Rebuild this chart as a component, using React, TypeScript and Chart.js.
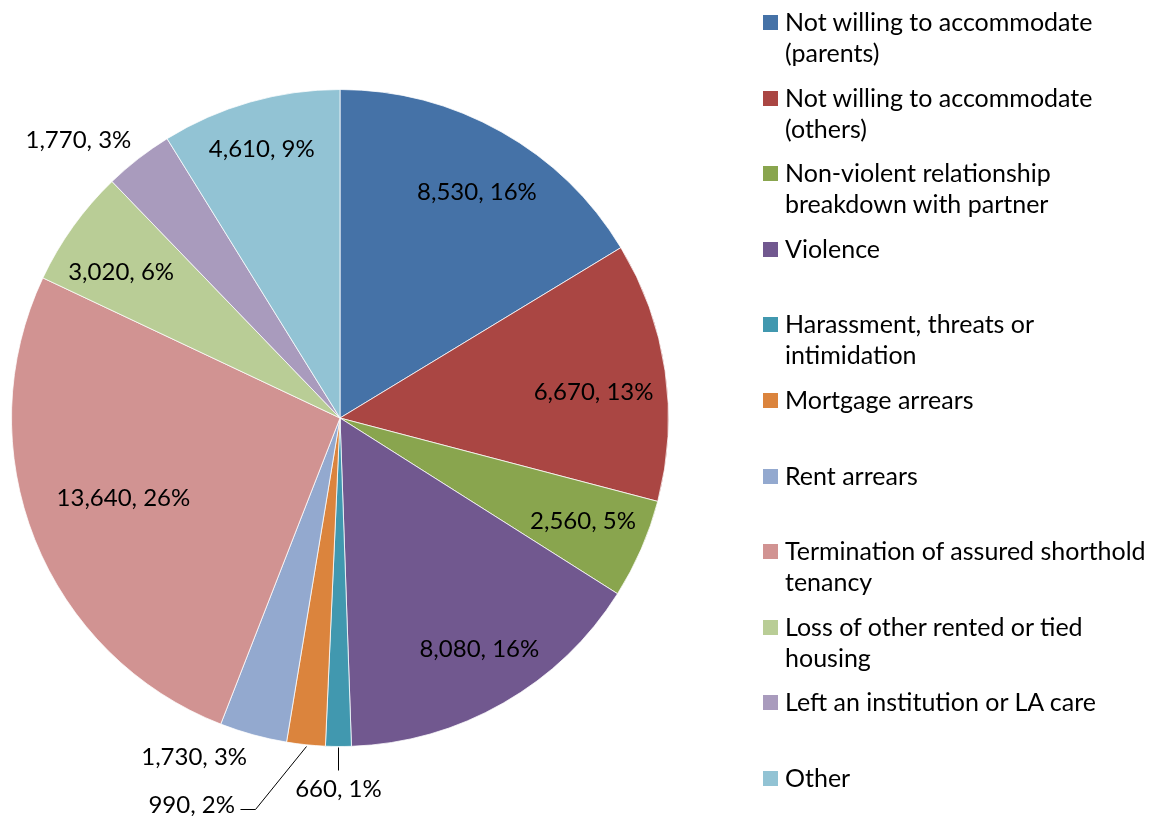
import React, { useEffect, useRef } from "react";
import { Chart, registerables } from "chart.js";

Chart.register(...registerables);

// ---------- data ----------
const categories = [
  "Not willing to accommodate (parents)",
  "Not willing to accommodate (others)",
  "Non-violent relationship breakdown with partner",
  "Violence",
  "Harassment, threats or intimidation",
  "Mortgage arrears",
  "Rent arrears",
  "Termination of assured shorthold tenancy",
  "Loss of other rented or tied housing",
  "Left an institution or LA care",
  "Other",
];
const legendLines = [
  ["Not willing to accommodate", "(parents)"],
  ["Not willing to accommodate", "(others)"],
  ["Non-violent relationship", "breakdown with partner"],
  ["Violence"],
  ["Harassment, threats or", "intimidation"],
  ["Mortgage arrears"],
  ["Rent arrears"],
  ["Termination of assured shorthold", "tenancy"],
  ["Loss of other rented or tied", "housing"],
  ["Left an institution or LA care"],
  ["Other"],
];
const values = [8530, 6670, 2560, 8080, 660, 990, 1730, 13640, 3020, 1770, 4610];
const percents = [16, 13, 5, 16, 1, 2, 3, 26, 6, 3, 9];

// ---------- styles ----------
const colors = [
  "#4572A7", "#AA4643", "#89A54E", "#71588F", "#4198AF", "#DB843D",
  "#93A9CF", "#D19392", "#B9CD96", "#A99BBD", "#92C3D4",
];
const FONT = "Lato, 'Open Sans', sans-serif";
const LABEL_FONT_SIZE = 24;
const LEGEND_FONT_SIZE = 25;

type LabelStyle = {
  inside: boolean;
  f?: number; // fraction of radius for inside labels
  dx?: number; dy?: number; // extra offset
  align?: CanvasTextAlign;
  leader?: number[][]; // polyline relative to outer mid point
};
const labelStyles: LabelStyle[] = [
  { inside: true, f: 0.8, dx: 8, dy: 3 },
  { inside: true, f: 0.78, dx: 0, dy: 11 },
  { inside: true, f: 0.8, dx: 2, dy: -2 },
  { inside: true, f: 0.81, dx: 7, dy: 0 },
  { inside: false, dx: 0, dy: 43, align: "center", leader: [[0, 1], [0, 24]] },
  { inside: false, dx: -71, dy: 61, align: "right", leader: [[0, 1], [-51, 64], [-66, 64]] },
  { inside: false, dx: -59, dy: 22, align: "center" },
  { inside: true, f: 0.7, dx: -3, dy: -5 },
  { inside: true, f: 0.79, dx: -8, dy: 6 },
  { inside: false, dx: -60, dy: -18, align: "center" },
  { inside: true, f: 0.86, dx: -1, dy: 3 },
];

const fmt = (v: number) => v.toLocaleString("en-US");

const labelPlugin = {
  id: "sliceLabels",
  afterDatasetsDraw(chart: any) {
    const ctx = chart.ctx as CanvasRenderingContext2D;
    const meta = chart.getDatasetMeta(0);
    ctx.save();
    ctx.font = `${LABEL_FONT_SIZE}px ${FONT}`;
    ctx.fillStyle = "#000";
    ctx.strokeStyle = "#000";
    ctx.lineWidth = 1;
    ctx.textBaseline = "middle";
    meta.data.forEach((arc: any, i: number) => {
      const p = arc.getProps(["x", "y", "startAngle", "endAngle", "outerRadius"], true);
      const mid = (p.startAngle + p.endAngle) / 2;
      const c = Math.cos(mid), s = Math.sin(mid);
      const text = `${fmt(values[i])}, ${percents[i]}%`;
      const st = labelStyles[i];
      if (st.inside) {
        const f = st.f || 0.8;
        ctx.textAlign = "center";
        ctx.fillText(text, p.x + c * p.outerRadius * f + (st.dx || 0), p.y + s * p.outerRadius * f + (st.dy || 0));
      } else {
        const ox = p.x + c * p.outerRadius;
        const oy = p.y + s * p.outerRadius;
        if (st.leader) {
          ctx.beginPath();
          st.leader.forEach((pt, k) => {
            const X = Math.round(ox + pt[0]) + 0.5;
            const Y = Math.round(oy + pt[1]) + 0.5;
            if (k === 0) ctx.moveTo(X, Y); else ctx.lineTo(X, Y);
          });
          ctx.stroke();
        }
        ctx.textAlign = st.align || "center";
        ctx.fillText(text, ox + (st.dx || 0), oy + (st.dy || 0));
      }
    });
    ctx.restore();
  },
};

export default function App() {
  const ref = useRef<HTMLCanvasElement | null>(null);
  useEffect(() => {
    if (!ref.current) return;
    const chart = new Chart(ref.current, {
      type: "pie",
      data: {
        labels: categories,
        datasets: [
          {
            data: values,
            backgroundColor: colors,
            borderColor: "rgba(255,255,255,0.75)",
            borderWidth: 1,
          },
        ],
      },
      options: {
        responsive: false,
        animation: false,
        layout: { padding: { left: 11, right: 480, top: 89, bottom: 69 } },
        plugins: {
          legend: { display: false },
          tooltip: { enabled: false },
        },
      },
      plugins: [labelPlugin],
    });
    return () => chart.destroy();
  }, []);

  return (
    <div style={{ position: "fixed", left: 0, top: 0, width: 1149, height: 816, background: "#fff", overflow: "hidden" }}>
      <canvas ref={ref} width={1149} height={816} style={{ position: "absolute", left: 0, top: 0 }} />
      <div style={{ position: "absolute", left: 763, top: 6, fontFamily: FONT, fontSize: LEGEND_FONT_SIZE, color: "#000" }}>
        {legendLines.map((lines, i) => (
          <div key={i} style={{ position: "absolute", left: 0, top: i * 75.6, width: 386, height: 75 }}>
            <div style={{ position: "absolute", left: 0, top: 9, width: 15, height: 15, background: colors[i] }} />
            <div style={{ position: "absolute", left: 22, top: 0, lineHeight: "31px", whiteSpace: "nowrap" }}>
              {lines.map((l, k) => (
                <div key={k}>{l}</div>
              ))}
            </div>
          </div>
        ))}
      </div>
    </div>
  );
}
